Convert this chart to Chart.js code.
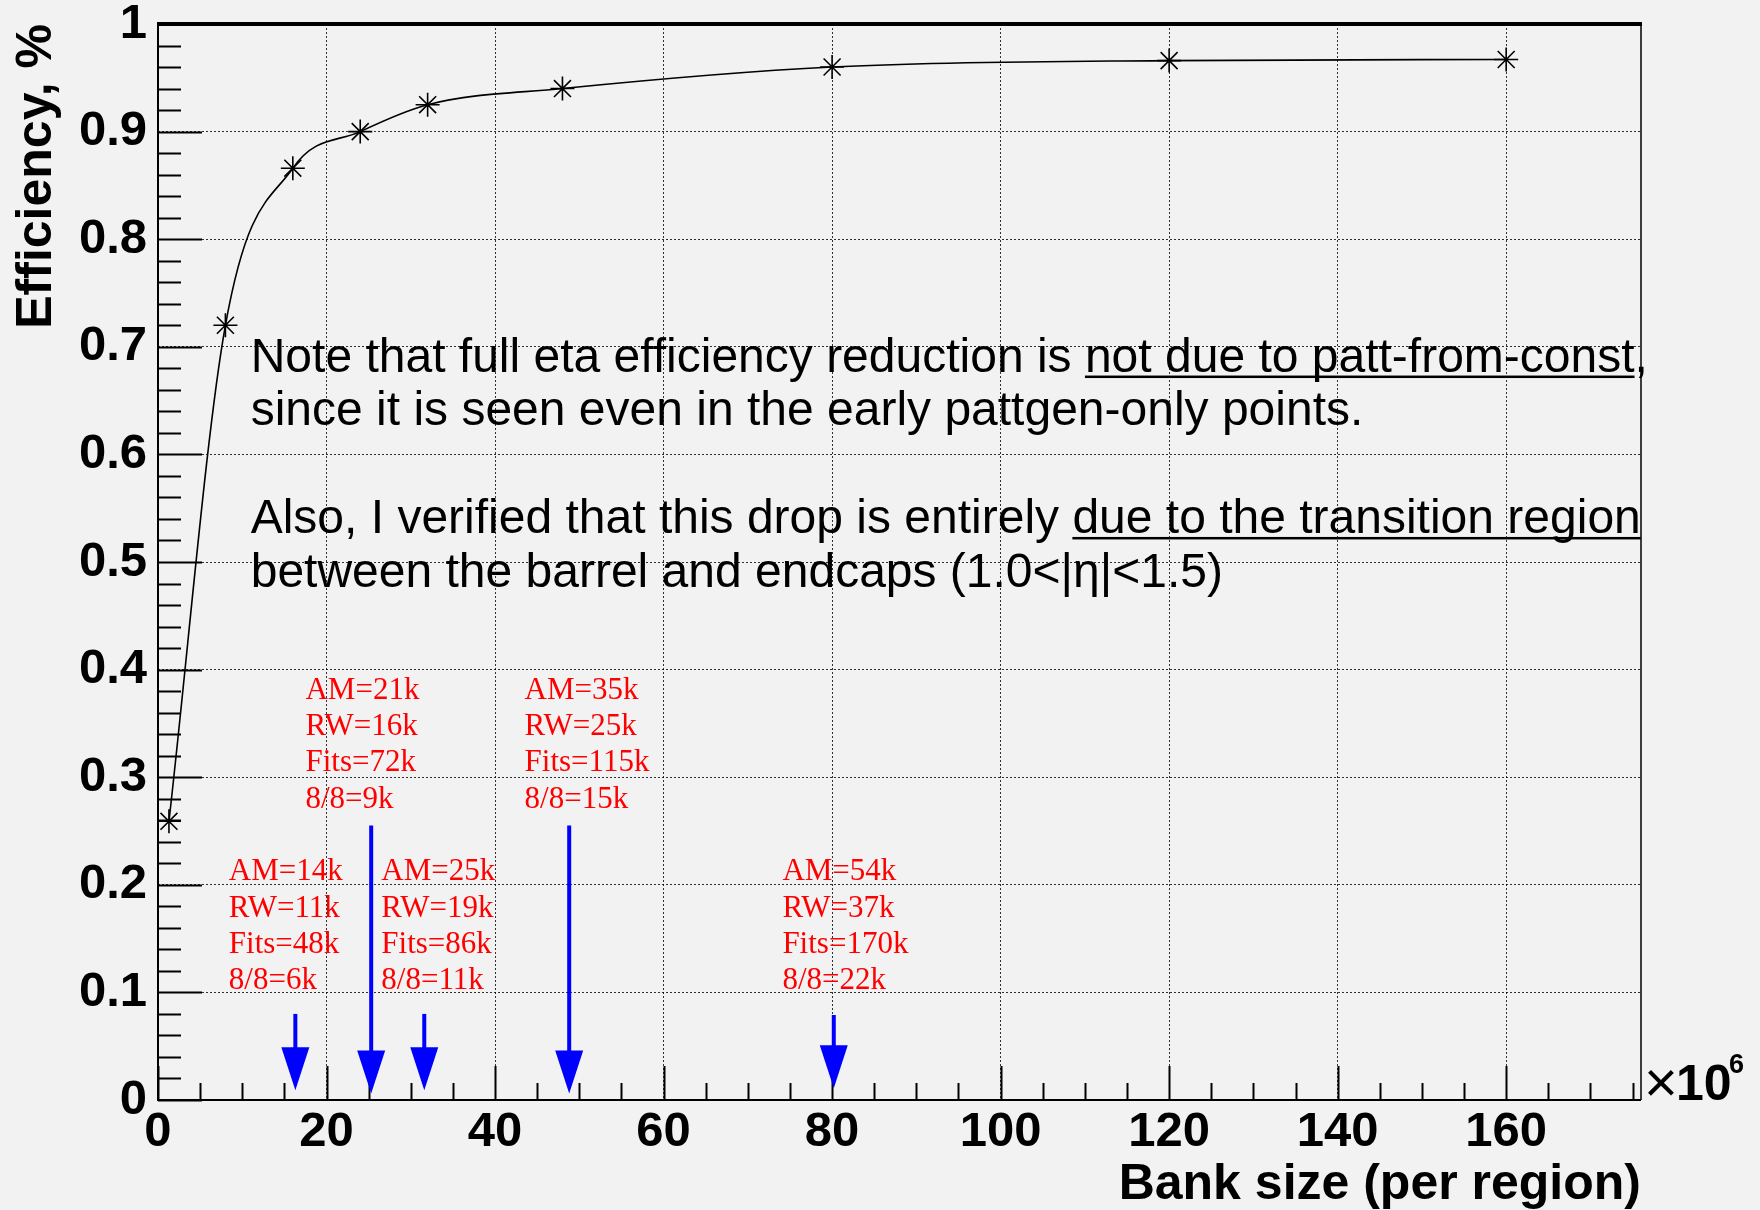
<!DOCTYPE html>
<html>
<head>
<meta charset="utf-8">
<script src="https://cdn.jsdelivr.net/npm/chart.js@4.4.1/dist/chart.umd.min.js"></script>
<style>
  html, body { margin: 0; padding: 0; background: #f2f2f2; }
  #wrap { width: 1760px; height: 1210px; }
</style>
</head>
<body>
<div id="wrap"><canvas id="eff" width="1760" height="1210"></canvas></div>
<script>
// efficiency vs bank size, x in units of 1e6 patterns
const bankSize = [1.3, 8, 16, 24, 32, 48, 80, 120, 160];
const efficiency = [0.259, 0.72, 0.866, 0.90, 0.925, 0.94, 0.96, 0.966, 0.967];

const xTickValues = [0, 20, 40, 60, 80, 100, 120, 140, 160];
const xTickLabels = ['0', '20', '40', '60', '80', '100', '120', '140', '160'];
const yTickLabels = ['0', '0.1', '0.2', '0.3', '0.4', '0.5', '0.6', '0.7', '0.8', '0.9', '1'];

// blue arrows (x position, shaft top, tip)
const arrowX = [16.3, 25.3, 31.6, 48.8, 80.2];
const arrowTop = [0.080, 0.255, 0.080, 0.255, 0.079];
const arrowTip = [0.009, 0.006, 0.009, 0.006, 0.011];

// red annotation blocks (left x, baseline of first line)
const noteX = [17.5, 43.5, 8.4, 26.5, 74.1];
const noteY = [0.373, 0.373, 0.204, 0.204, 0.204];
const noteText = [
  ['AM=21k', 'RW=16k', 'Fits=72k', '8/8=9k'],
  ['AM=35k', 'RW=25k', 'Fits=115k', '8/8=15k'],
  ['AM=14k', 'RW=11k', 'Fits=48k', '8/8=6k'],
  ['AM=25k', 'RW=19k', 'Fits=86k', '8/8=11k'],
  ['AM=54k', 'RW=37k', 'Fits=170k', '8/8=22k']
];

// black comment
const commentX = 11.0;
const commentY = [0.677, 0.627, 0.527, 0.477];
const commentLines = [
  'Note that full eta efficiency reduction is not due to patt-from-const,',
  'since it is seen even in the early pattgen-only points.',
  'Also, I verified that this drop is entirely due to the transition region',
  'between the barrel and endcaps (1.0<|\u03b7|<1.5)'
];
const commentUnderline = ['not due to patt-from-const', '', 'due to the transition region', ''];

const BG = '#f2f2f2';
const SANS = "'Liberation Sans', Arial, Helvetica, sans-serif";
const SERIF = "'Liberation Serif', 'Times New Roman', serif";

Chart.defaults.font.family = SANS;
Chart.defaults.color = '#000';

/* ── ROOT-style frame, inner ticks, arrows and texts ── */
const rootDecor = {
  id: 'rootDecor',
  beforeDraw(chart) {
    const { ctx, width, height } = chart;
    ctx.save();
    ctx.fillStyle = BG;
    ctx.fillRect(0, 0, width, height);
    ctx.restore();
  },
  afterDraw(chart) {
    const { ctx, chartArea: a, scales: { x, y } } = chart;
    ctx.save();

    // inner ticks
    ctx.strokeStyle = '#000';
    ctx.lineWidth = 2;
    ctx.beginPath();
    for (let i = 0; i * 5 <= x.max; i++) {
      const px = Math.round(x.getPixelForValue(i * 5)) + 0.5;
      const len = i % 4 === 0 ? 34 : 17;
      ctx.moveTo(px, a.bottom);
      ctx.lineTo(px, a.bottom - len);
    }
    for (let i = 0; i <= 50; i++) {
      const py = Math.round(y.getPixelForValue(i * 0.02)) + 0.5;
      const len = i % 5 === 0 ? 44 : 23;
      ctx.moveTo(a.left, py);
      ctx.lineTo(a.left + len, py);
    }
    ctx.stroke();

    // frame
    ctx.lineWidth = 2;
    ctx.beginPath();
    ctx.moveTo(a.left, a.top);
    ctx.lineTo(a.left, a.bottom);
    ctx.lineTo(a.right, a.bottom);
    ctx.stroke();
    ctx.lineWidth = 1.5;
    ctx.beginPath();
    ctx.moveTo(a.right, a.bottom);
    ctx.lineTo(a.right, a.top);
    ctx.stroke();
    ctx.lineWidth = 4;
    ctx.beginPath();
    ctx.moveTo(a.left - 1, a.top);
    ctx.lineTo(a.right + 1, a.top);
    ctx.stroke();

    // x10^6
    ctx.fillStyle = '#000';
    ctx.textBaseline = 'alphabetic';
    ctx.textAlign = 'left';
    ctx.font = '58px ' + SANS;
    ctx.fillText('\u00d7', a.right + 3, a.bottom + 2);
    ctx.font = 'bold 50px ' + SANS;
    ctx.fillText('10', a.right + 35, a.bottom);
    ctx.font = 'bold 27px ' + SANS;
    ctx.fillText('6', a.right + 88, a.bottom - 27);

    // comment text
    ctx.font = '48px ' + SANS;
    commentLines.forEach((line, i) => {
      const px = x.getPixelForValue(commentX);
      const py = y.getPixelForValue(commentY[i]);
      ctx.fillText(line, px, py);
      const u = commentUnderline[i];
      if (u) {
        const start = line.indexOf(u);
        const ux = px + ctx.measureText(line.slice(0, start)).width;
        const uw = ctx.measureText(u).width;
        ctx.fillRect(ux, py + 4, uw, 2.5);
      }
    });

    // red annotations
    ctx.fillStyle = '#ff0000';
    ctx.font = '31px ' + SERIF;
    noteText.forEach((lines, k) => {
      const px = x.getPixelForValue(noteX[k]);
      const py = y.getPixelForValue(noteY[k]);
      lines.forEach((t, j) => ctx.fillText(t, px, py + j * 36.3));
    });

    // blue arrows
    ctx.fillStyle = '#0000ff';
    ctx.strokeStyle = '#0000ff';
    arrowX.forEach((v, k) => {
      const px = x.getPixelForValue(v);
      const top = y.getPixelForValue(arrowTop[k]);
      const tip = y.getPixelForValue(arrowTip[k]);
      const head = 43;
      ctx.lineWidth = 4;
      ctx.beginPath();
      ctx.moveTo(px, top);
      ctx.lineTo(px, tip - head + 2);
      ctx.stroke();
      ctx.beginPath();
      ctx.moveTo(px - 14, tip - head);
      ctx.lineTo(px + 14, tip - head);
      ctx.lineTo(px, tip);
      ctx.closePath();
      ctx.fill();
    });

    ctx.restore();
  }
};

new Chart(document.getElementById('eff'), {
  type: 'line',
  data: {
    datasets: [{
      data: bankSize.map((b, i) => ({ x: b, y: efficiency[i] })),
      borderColor: '#000',
      borderWidth: 1.6,
      cubicInterpolationMode: 'monotone',
      pointStyle: 'star',
      pointRadius: 12,
      pointBorderWidth: 1.6,
      pointBorderColor: '#000',
      pointBackgroundColor: '#000',
      fill: false
    }]
  },
  options: {
    responsive: false,
    animation: false,
    devicePixelRatio: 1,
    layout: { padding: { left: 0, right: 119, top: 24, bottom: 0 } },
    plugins: { legend: { display: false }, tooltip: { enabled: false } },
    scales: {
      x: {
        type: 'linear',
        min: 0,
        max: 176,
        afterFit: s => { s.height = 110; s.paddingLeft = 0; s.paddingRight = 0; },
        grid: { color: 'rgba(0,0,0,0.8)', lineWidth: 1, drawTicks: false },
        border: { display: false, dash: [2, 2] },
        ticks: {
          stepSize: 20,
          includeBounds: false,
          autoSkip: false,
          maxRotation: 0,
          padding: 3,
          color: '#000',
          font: { size: 49, weight: 'bold' },
          callback: v => {
            const i = xTickValues.indexOf(v);
            return i >= 0 ? xTickLabels[i] : '';
          }
        },
        title: {
          display: true,
          text: 'Bank size (per region)',
          align: 'end',
          color: '#000',
          font: { size: 50, weight: 'bold' },
          padding: { top: 0, bottom: -5 }
        }
      },
      y: {
        min: 0,
        max: 1,
        afterFit: s => { s.width = 158; s.paddingTop = 0; s.paddingBottom = 0; },
        grid: { color: 'rgba(0,0,0,0.8)', lineWidth: 1, drawTicks: false },
        border: { display: false, dash: [2, 2] },
        ticks: {
          stepSize: 0.1,
          autoSkip: false,
          padding: 11,
          color: '#000',
          font: { size: 49, weight: 'bold' },
          callback: (v, i) => yTickLabels[i]
        },
        title: {
          display: true,
          text: 'Efficiency, %',
          align: 'end',
          color: '#000',
          font: { size: 50, weight: 'bold' },
          padding: { top: 7, bottom: 0 }
        }
      }
    }
  },
  plugins: [rootDecor]
});
</script>
</body>
</html>
